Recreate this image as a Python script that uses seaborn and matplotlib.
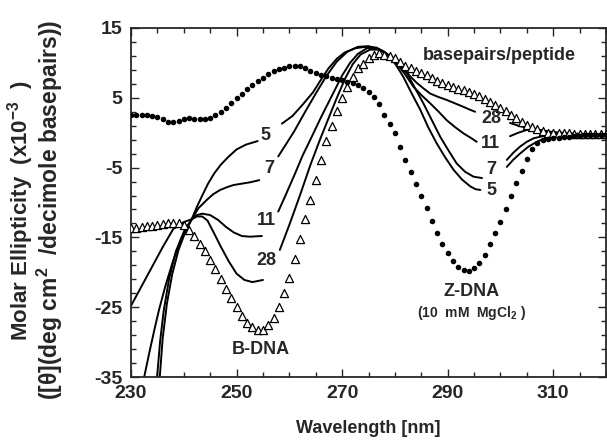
import numpy as np
import pandas as pd
import matplotlib
matplotlib.use("Agg")
import matplotlib.pyplot as plt
from matplotlib.ticker import FixedLocator
import seaborn as sns

# ---------------- data ----------------
wavelength = np.arange(230, 321, 1)

z_dna = [2.5, 2.5, 2.5, 2.5, 2.4, 2.2, 1.9, 1.6, 1.5, 1.7,
         2.0, 2.1, 2.0, 1.9, 1.9, 2.1, 2.5, 3.0, 3.6, 4.3,
         5.0, 5.6, 6.2, 6.8, 7.4, 7.9, 8.4, 8.8, 9.1, 9.3,
         9.5, 9.6, 9.5, 9.2, 8.8, 8.5, 8.3, 8.1, 7.9, 7.7,
         7.5, 7.3, 7.1, 6.9, 6.4, 5.9, 5.1, 4.1, 2.5, 1.2,
         0.0, -2.0, -3.9, -5.6, -7.3, -9.0, -10.8, -12.6, -14.4, -16.0,
         -17.3, -18.4, -19.3, -19.7, -19.8, -19.4, -18.7, -17.5, -16.0, -14.4,
         -12.8, -11.0, -9.1, -7.2, -5.5, -3.8, -2.3, -1.5, -1.1, -0.9,
         -0.8, -0.7, -0.6, -0.6, -0.5, -0.5, -0.4, -0.4, -0.3, -0.3, -0.3]

b_dna = [-13.7, -13.6, -13.5, -13.4, -13.3, -13.2, -13.1, -13.0, -12.9, -12.9,
         -13.2, -13.9, -14.8, -15.9, -17.0, -18.2, -19.5, -20.9, -22.4, -23.7,
         -25.0, -26.3, -27.3, -27.9, -28.3, -28.2, -27.6, -26.5, -24.9, -23.0,
         -20.8, -18.1, -15.2, -12.4, -9.7, -6.8, -3.9, -1.2, 1.0, 3.1,
         5.0, 6.5, 8.0, 9.2, 9.9, 10.7, 11.2, 11.4, 11.2, 11.0,
         10.7, 10.1, 9.6, 9.2, 8.9, 8.6, 8.2, 7.8, 7.4, 7.1,
         6.9, 6.6, 6.3, 6.1, 5.8, 5.5, 5.2, 4.8, 4.4, 4.0,
         3.6, 3.1, 2.6, 2.1, 1.6, 1.1, 0.8, 0.6, 0.3, 0.0,
         -0.1, -0.1, -0.1, -0.1, -0.2, -0.2, -0.2, -0.2, -0.2, -0.2, -0.2]

# peptide titrations (basepairs/peptide); each curve in three segments (gaps for labels)
c5_x = [[235.2, 235.5, 236.0, 236.8, 237.8, 239.0, 240.3, 241.5, 242.5, 243.5, 244.6, 245.8, 247.0, 248.4, 250.0, 251.8, 254.0],
        [258.6, 260.6, 262.5, 264.5, 266.0, 267.4, 269.0, 270.5, 272.5, 274.4, 276.0, 277.5, 279.0, 280.3, 281.6, 283.2, 284.8, 286.3, 287.9, 289.5, 291.1, 292.7, 294.3, 295.3, 296.2],
        [301.2, 302.4, 303.7, 305.3, 306.9, 308.5, 310.0, 313.0, 317.0, 320.0]]
c5_y = [[-37, -34.5, -29.5, -24.5, -20.3, -16.8, -14.2, -12.4, -10.6, -9.0, -7.3, -5.8, -4.6, -3.5, -2.4, -1.7, -1.2],
        [1.3, 2.4, 4.0, 5.8, 7.6, 9.2, 10.6, 11.5, 12.1, 12.3, 12.2, 11.7, 11.0, 9.6, 8.0, 5.6, 3.3, 0.8, -1.5, -3.5, -5.3, -6.7, -7.7, -8.1, -8.2],
        [-4.9, -3.9, -3.0, -2.0, -1.3, -0.8, -0.5, -0.4, -0.3, -0.3]]

c7_x = [[234.7, 235.0, 235.5, 236.2, 237.2, 238.5, 240.0, 241.5, 242.8, 244.4, 245.6, 246.9, 248.2, 249.4, 251.0, 252.6, 254.3],
        [257.9, 259.5, 261.0, 263.0, 265.0, 267.0, 269.0, 271.0, 273.0, 275.0, 276.5, 278.0, 280.0, 282.3, 283.8, 285.4, 287.0, 288.6, 290.2, 291.7, 293.3, 294.9, 296.5],
        [301.2, 302.4, 303.7, 305.0, 306.3, 308.0, 310.0, 313.0, 317.0, 320.0]]
c7_y = [[-37, -34.5, -30.0, -25.5, -21.0, -17.0, -14.2, -12.4, -10.8, -9.6, -8.8, -8.2, -7.8, -7.5, -7.3, -7.1, -6.8],
        [-3.4, -1.5, 0.3, 3.0, 5.6, 8.1, 10.2, 11.6, 12.3, 12.4, 12.1, 11.5, 10.1, 8.5, 6.4, 4.2, 1.8, -0.6, -2.6, -4.4, -5.6, -6.3, -6.5],
        [-3.9, -2.9, -2.0, -1.3, -0.8, -0.5, -0.4, -0.3, -0.3, -0.3]]

c11_x = [[232.2, 232.5, 233.5, 234.5, 235.3, 236.5, 238.0, 239.5, 240.5, 241.5, 242.5, 243.5, 245.0, 246.5, 248.0, 249.5, 251.0, 252.5, 254.8],
         [257.9, 259.5, 261.0, 262.5, 264.3, 266.0, 268.0, 270.0, 271.5, 273.0, 274.7, 276.5, 278.0, 280.0, 282.0, 283.5, 285.0, 286.7, 288.3, 289.8, 291.4, 293.0, 294.3, 295.5],
         [301.8, 303.4, 305.0, 306.5, 308.0, 310.0, 313.0, 317.0, 320.0]]
c11_y = [[-37, -35.0, -31.4, -28.0, -25.4, -22.0, -18.3, -15.3, -13.7, -12.4, -11.8, -11.6, -11.8, -12.5, -13.5, -14.3, -14.8, -14.9, -14.8],
         [-11.3, -8.6, -6.0, -3.3, -0.5, 2.2, 5.2, 8.2, 10.0, 11.3, 12.1, 12.2, 11.6, 10.3, 8.3, 6.6, 5.4, 4.2, 3.0, 1.8, 0.8, -0.1, -0.7, -1.3],
         [-0.5, 0.0, 0.4, 0.5, 0.3, 0.0, -0.2, -0.3, -0.3]]

c28_x = [[230.0, 232.0, 234.0, 236.0, 238.0, 240.0, 241.5, 242.5, 243.5, 244.5, 245.6, 247.0, 248.5, 250.0, 251.5, 253.0, 255.0],
         [258.2, 260.0, 262.0, 264.0, 265.8, 267.5, 269.0, 270.6, 272.0, 273.5, 275.3, 277.0, 278.5, 280.0, 281.5, 283.0, 284.2, 285.5, 286.7, 288.3, 289.8, 291.4, 293.0, 294.2, 295.2],
         [301.8, 303.4, 305.0, 306.5, 308.0, 310.0, 313.0, 317.0, 320.0]]
c28_y = [[-24.8, -22.0, -19.2, -16.4, -13.8, -12.8, -12.4, -12.0, -12.0, -12.6, -14.2, -16.3, -18.4, -20.2, -21.1, -21.4, -21.1],
         [-16.8, -13.2, -9.0, -4.6, -1.0, 2.2, 5.0, 7.8, 9.8, 11.2, 11.9, 11.9, 11.3, 10.4, 9.3, 8.0, 7.1, 6.3, 5.6, 5.1, 4.7, 4.2, 3.7, 3.3, 3.0],
         [1.4, 1.0, 0.7, 0.5, 0.3, 0.1, -0.1, -0.2, -0.2]]

curve_names = ["5", "7", "11", "28"]
left_label_pos = [(255.4, -0.4), (256.2, -5.2), (255.6, -12.6), (255.6, -18.3)]
right_label_pos = [(298.3, -8.3), (298.3, -5.3), (298.1, -1.6), (298.3, 2.1)]

x_ticks = [230, 250, 270, 290, 310]
y_ticks = [15, 5, -5, -15, -25, -35]

# ---------------- style ----------------
sns.set_style("ticks")
plt.rcParams["font.family"] = ["Liberation Sans", "DejaVu Sans"]
plt.rcParams["font.weight"] = "bold"
plt.rcParams["axes.unicode_minus"] = False
plt.rcParams["mathtext.fontset"] = "custom"
plt.rcParams["mathtext.rm"] = "Liberation Sans:bold"
plt.rcParams["mathtext.it"] = "Liberation Sans:bold"
plt.rcParams["mathtext.bf"] = "Liberation Sans:bold"
plt.rcParams["mathtext.default"] = "rm"

fig = plt.figure(figsize=(6.07, 4.44), dpi=100)
ax = fig.add_axes([131 / 607, 1 - 377 / 444, (606 - 131) / 607, (377 - 28) / 444])

# peptide curves
rows = []
for name, xs, ys in zip(curve_names, [c5_x, c7_x, c11_x, c28_x], [c5_y, c7_y, c11_y, c28_y]):
    for si, (sx, sy) in enumerate(zip(xs, ys)):
        for xv, yv in zip(sx, sy):
            rows.append({"wl": xv, "val": yv, "seg": f"{name}_{si}"})
df_lines = pd.DataFrame(rows)
sns.lineplot(data=df_lines, x="wl", y="val", units="seg", estimator=None, sort=False,
             color="black", linewidth=1.4, ax=ax, legend=False)

df_pts = pd.DataFrame({"wl": wavelength, "z": z_dna, "b": b_dna})
sns.scatterplot(data=df_pts, x="wl", y="b", marker="^", s=34, facecolor="white",
                edgecolor="black", linewidth=0.9, ax=ax, legend=False, zorder=3)
sns.scatterplot(data=df_pts, x="wl", y="z", marker="o", s=16, color="black",
                edgecolor="black", linewidth=0, ax=ax, legend=False, zorder=4)

for name, (lx, ly) in zip(curve_names, left_label_pos):
    ax.text(lx, ly, name, ha="center", va="center", fontsize=13, fontweight="bold")
for name, (lx, ly) in zip(curve_names, right_label_pos):
    ax.text(lx, ly, name, ha="center", va="center", fontsize=13, fontweight="bold")

ax.text(254.6, -31.0, "B-DNA", ha="center", va="center", fontsize=13, fontweight="bold")
ax.text(294.5, -22.7, "Z-DNA", ha="center", va="center", fontsize=13, fontweight="bold")
ax.text(294.5, -25.9, "(10  mM  MgCl$_{2}$ )", ha="center", va="center", fontsize=10, fontweight="bold")
ax.text(299.8, 11.0, "basepairs/peptide", ha="center", va="center", fontsize=13, fontweight="bold")

ax.set_xlim(230, 320)
ax.set_ylim(-35, 15)
ax.xaxis.set_major_locator(FixedLocator(x_ticks))
ax.xaxis.set_minor_locator(FixedLocator(np.arange(230, 321, 5)))
ax.yaxis.set_major_locator(FixedLocator(y_ticks))
ax.yaxis.set_minor_locator(FixedLocator(np.arange(-35, 16, 2)))
ax.tick_params(which="both", direction="in", top=True, right=True, width=1.0,
               labelsize=14, pad=6)
ax.tick_params(which="major", length=6)
ax.tick_params(which="minor", length=3.5)
for lab in ax.get_xticklabels() + ax.get_yticklabels():
    lab.set_fontweight("bold")
for sp in ax.spines.values():
    sp.set_linewidth(1.3)

ax.set_xlabel("Wavelength [nm]", fontsize=13, fontweight="bold", labelpad=13)
ax.set_ylabel("")
fig.text(21 / 607, 1 - 211 / 444, "Molar Ellipticity  (x10$^{-3}$  )", rotation=90,
         ha="center", va="center", fontsize=16, fontweight="bold")
fig.text(50 / 607, 1 - 210 / 444, "([θ](deg cm$^{2}$  /decimole basepairs))", rotation=90,
         ha="center", va="center", fontsize=16.5, fontweight="bold")

fig.savefig("out.png", dpi=100)
